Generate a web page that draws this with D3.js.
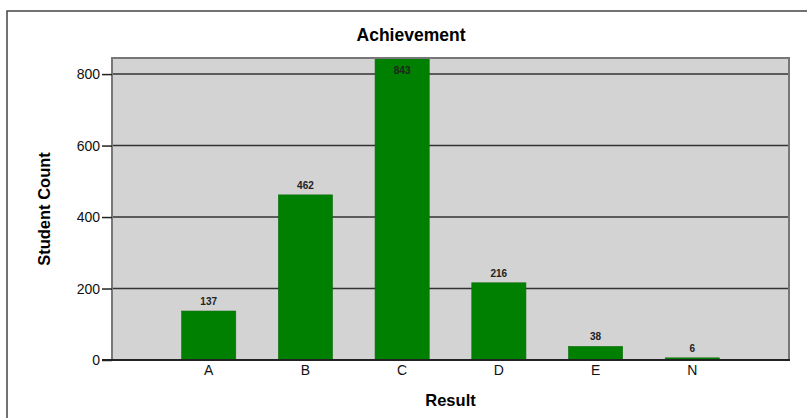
<!DOCTYPE html>
<html>
<head>
<meta charset="utf-8">
<script src="https://cdn.jsdelivr.net/npm/d3@7"></script>
<style>
  body { margin: 0; background: #fff; }
  svg { display: block; font-family: "Liberation Sans", Arial, sans-serif; }
</style>
</head>
<body>
<div id="chart"></div>
<script>
const categories = ["A", "B", "C", "D", "E", "N"];
const counts = [137, 462, 843, 216, 38, 6];
const yTicks = [0, 200, 400, 600, 800];

const green = "#008000";
const plotBg = "#d3d3d3";

let dimensions = {
  width: 807,
  height: 418,
  margin: { top: 58, right: 18, bottom: 58, left: 112 },
};
dimensions.boundedWidth =
  dimensions.width - dimensions.margin.left - dimensions.margin.right;
dimensions.boundedHeight =
  dimensions.height - dimensions.margin.top - dimensions.margin.bottom;

const dataset = categories.map((c, i) => ({ cat: c, value: counts[i] }));

const wrapper = d3
  .select("#chart")
  .append("svg")
  .attr("width", dimensions.width)
  .attr("height", dimensions.height);

// outer frame
wrapper
  .append("rect")
  .attr("x", 7)
  .attr("y", 11)
  .attr("width", 830)
  .attr("height", 440)
  .attr("fill", "none")
  .attr("stroke", "#444")
  .attr("stroke-width", 1.5);

const bounds = wrapper
  .append("g")
  .attr(
    "transform",
    `translate(${dimensions.margin.left}, ${dimensions.margin.top})`
  );

// scales
const xScale = d3
  .scaleBand()
  .domain(categories)
  .range([0, dimensions.boundedWidth])
  .paddingInner(0.44)
  .paddingOuter(0.72);

const yScale = d3
  .scaleLinear()
  .domain([0, 845])
  .range([dimensions.boundedHeight, 0]);

// plot background
bounds
  .append("rect")
  .attr("width", dimensions.boundedWidth)
  .attr("height", dimensions.boundedHeight)
  .attr("fill", plotBg);

// gridlines
bounds
  .append("g")
  .selectAll("line")
  .data(yTicks.filter((t) => t > 0))
  .enter()
  .append("line")
  .attr("x1", 0)
  .attr("x2", dimensions.boundedWidth)
  .attr("y1", (d) => yScale(d))
  .attr("y2", (d) => yScale(d))
  .attr("stroke", "#333")
  .attr("stroke-width", 1.5);

// bars
bounds
  .append("g")
  .selectAll("rect")
  .data(dataset)
  .enter()
  .append("rect")
  .attr("x", (d) => xScale(d.cat))
  .attr("y", (d) => yScale(d.value))
  .attr("width", xScale.bandwidth())
  .attr("height", (d) => dimensions.boundedHeight - yScale(d.value))
  .attr("fill", green)
  .attr("stroke", "#0a6e0a")
  .attr("stroke-width", 0.6);

// value labels
bounds
  .append("g")
  .selectAll("text")
  .data(dataset)
  .enter()
  .append("text")
  .attr("x", (d) => xScale(d.cat) + xScale.bandwidth() / 2)
  .attr("y", (d) =>
    yScale(d.value) - 6 < 10 ? yScale(d.value) + 15 : yScale(d.value) - 6
  )
  .attr("text-anchor", "middle")
  .attr("font-size", 10)
  .attr("font-weight", "bold")
  .attr("fill", "#222")
  .text((d) => d.value);

// plot border
bounds
  .append("rect")
  .attr("width", dimensions.boundedWidth)
  .attr("height", dimensions.boundedHeight)
  .attr("fill", "none")
  .attr("stroke", "#777")
  .attr("stroke-width", 2);

// y axis
const yAxisGenerator = d3
  .axisLeft(yScale)
  .tickValues(yTicks)
  .tickSize(10)
  .tickPadding(2);
const yAxis = bounds.append("g").call(yAxisGenerator);
yAxis.select(".domain").remove();
yAxis.selectAll("line").attr("stroke", "#222").attr("stroke-width", 1.5);
yAxis
  .selectAll("text")
  .attr("font-size", 14)
  .attr("font-family", "Liberation Sans, Arial, sans-serif")
  .attr("fill", "#111");

// x axis
const xAxisGenerator = d3.axisBottom(xScale).tickSize(0).tickPadding(5);
const xAxis = bounds
  .append("g")
  .attr("transform", `translate(0, ${dimensions.boundedHeight})`)
  .call(xAxisGenerator);
xAxis
  .select(".domain")
  .attr("stroke", "#222")
  .attr("stroke-width", 2)
  .attr("d", `M-10,0H${dimensions.boundedWidth + 1}`);
xAxis
  .selectAll("text")
  .attr("font-size", 14)
  .attr("font-family", "Liberation Sans, Arial, sans-serif")
  .attr("fill", "#111");

// titles
wrapper
  .append("text")
  .attr("x", 411)
  .attr("y", 41)
  .attr("text-anchor", "middle")
  .attr("font-size", 17.5)
  .attr("font-weight", "bold")
  .text("Achievement");

wrapper
  .append("text")
  .attr("x", dimensions.margin.left + dimensions.boundedWidth / 2)
  .attr("y", 406)
  .attr("text-anchor", "middle")
  .attr("font-size", 16.5)
  .attr("font-weight", "bold")
  .text("Result");

wrapper
  .append("text")
  .attr("transform", "translate(50, 209) rotate(-90)")
  .attr("text-anchor", "middle")
  .attr("font-size", 16.5)
  .attr("font-weight", "bold")
  .text("Student Count");
</script>
</body>
</html>
